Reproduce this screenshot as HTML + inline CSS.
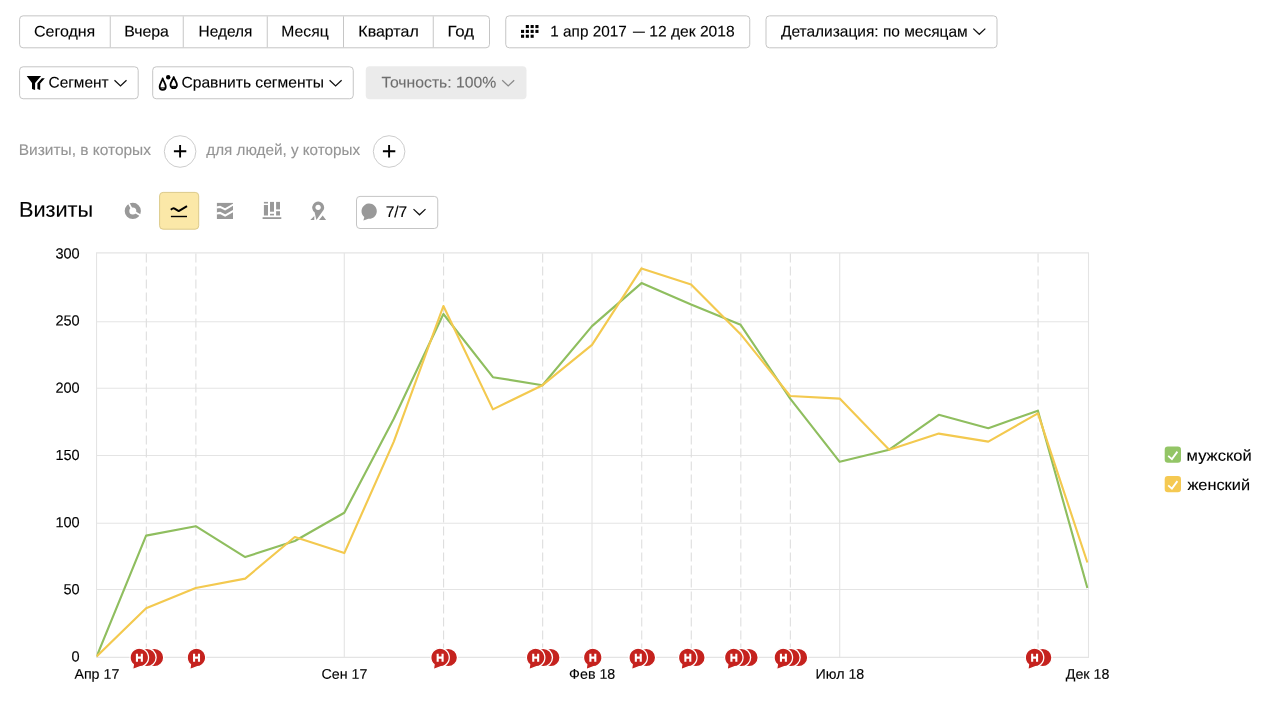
<!DOCTYPE html>
<html lang="ru">
<head>
<meta charset="utf-8">
<title>Визиты</title>
<style>
html,body{margin:0;padding:0;background:#fff;}
body{width:1261px;height:716px;position:relative;overflow:hidden;font-family:"Liberation Sans",sans-serif;font-size:15px;color:#000;}
.ov{position:absolute;left:0;top:0;}
.txt{position:absolute;left:0;top:0;width:1261px;height:716px;will-change:transform;}
.lbl{position:absolute;white-space:nowrap;line-height:30px;-webkit-text-stroke:0.12px currentColor;}
</style>
</head>
<body>
<svg class="ov" width="1261" height="716" viewBox="0 0 1261 716">
<defs>
<clipPath id="cp"><rect x="96.5" y="240" width="992" height="430"/></clipPath>
</defs>
<rect x="19.6" y="15.85" width="469.90" height="31.95" rx="3.5" fill="#fff" stroke="#c5c5c5" stroke-width="1"/>
<line x1="110.25" y1="16.3" x2="110.25" y2="47.3" stroke="#c6c6c6" stroke-width="1"/>
<line x1="183.25" y1="16.3" x2="183.25" y2="47.3" stroke="#c6c6c6" stroke-width="1"/>
<line x1="267.25" y1="16.3" x2="267.25" y2="47.3" stroke="#c6c6c6" stroke-width="1"/>
<line x1="343.5" y1="16.3" x2="343.5" y2="47.3" stroke="#c6c6c6" stroke-width="1"/>
<line x1="433.25" y1="16.3" x2="433.25" y2="47.3" stroke="#c6c6c6" stroke-width="1"/>
<rect x="505.75" y="15.85" width="244.00" height="31.95" rx="3.5" fill="#fff" stroke="#c5c5c5" stroke-width="1"/>
<rect x="766" y="15.85" width="231.00" height="31.95" rx="3.5" fill="#fff" stroke="#c5c5c5" stroke-width="1"/>
<rect x="19.6" y="66.8" width="118.60" height="31.95" rx="3.5" fill="#fff" stroke="#c5c5c5" stroke-width="1"/>
<rect x="152.7" y="66.8" width="200.55" height="31.95" rx="3.5" fill="#fff" stroke="#c5c5c5" stroke-width="1"/>
<rect x="365.75" y="66.3" width="160.75" height="32.95" rx="4" fill="#ebebeb"/>
<rect x="356.5" y="196.4" width="81.25" height="32.10" rx="3.5" fill="#fff" stroke="#c5c5c5" stroke-width="1"/>
<rect x="159.6" y="192.4" width="39.10" height="36.80" rx="3.5" fill="#fbe8a8" stroke="#dcca8a" stroke-width="1"/>
<circle cx="180.1" cy="151.5" r="15.8" fill="#fff" stroke="#cdcdcd" stroke-width="1"/>
<path d="M173.9,151.3 h12.4 M180.1,145.1 v12.4" stroke="#000" stroke-width="1.9" fill="none"/>
<circle cx="389.1" cy="151.5" r="15.8" fill="#fff" stroke="#cdcdcd" stroke-width="1"/>
<path d="M382.90000000000003,151.3 h12.4 M389.1,145.1 v12.4" stroke="#000" stroke-width="1.9" fill="none"/>
<path d="M973.3,28.6 l6,5.7 l6,-5.7" fill="none" stroke-width="1.25" stroke="#111"/>
<path d="M114.5,80.2 l6,5.7 l6,-5.7" fill="none" stroke-width="1.25" stroke="#111"/>
<path d="M329.6,80.2 l6,5.7 l6,-5.7" fill="none" stroke-width="1.25" stroke="#111"/>
<path d="M502.2,80.2 l6,5.7 l6,-5.7" fill="none" stroke-width="1.25" stroke="#8a8a8a"/>
<path d="M413.5,209.1 l6,5.7 l6,-5.7" fill="none" stroke-width="1.25" stroke="#111"/>
<rect x="525.8" y="25.00" width="3.1" height="3.1" fill="#000"/>
<rect x="530.6" y="25.00" width="3.1" height="3.1" fill="#000"/>
<rect x="535.4" y="25.00" width="3.1" height="3.1" fill="#000"/>
<rect x="521.0" y="29.85" width="3.1" height="3.1" fill="#000"/>
<rect x="525.8" y="29.85" width="3.1" height="3.1" fill="#000"/>
<rect x="530.6" y="29.85" width="3.1" height="3.1" fill="#000"/>
<rect x="535.4" y="29.85" width="3.1" height="3.1" fill="#000"/>
<rect x="521.0" y="34.70" width="3.1" height="3.1" fill="#000"/>
<rect x="525.8" y="34.70" width="3.1" height="3.1" fill="#000"/>
<rect x="530.6" y="34.70" width="3.1" height="3.1" fill="#000"/>
<line x1="632.9" y1="32.2" x2="644.9" y2="32.2" stroke="#000" stroke-width="1.1"/>
<path d="M26.7,76 H41.1 L35.1,83 V90 L32,88.9 V83 Z M41.9,78.2 H44.8 L40.2,83.6 V90 L37.4,88.9 V83.3 Z" fill="#000"/>
<path d="M162.7,78.4 C161.80,81.40 159.65,84.15 159.65,86.75 A3.05,3.05 0 0,0 165.75,86.75 C165.75,84.15 163.60,81.40 162.7,78.4 Z" fill="none" stroke="#000" stroke-width="1.8" stroke-linejoin="round"/>
<path d="M160.6,87.9 h4.3" stroke="#000" stroke-width="1"/>
<path d="M173.7,77.0 C172.80,80.00 170.45,82.35 170.45,84.95 A3.25,3.25 0 0,0 176.95,84.95 C176.95,82.35 174.60,80.00 173.7,77.0 Z" fill="none" stroke="#000" stroke-width="1.8" stroke-linejoin="round"/>
<path d="M171.4,86.4 h4.7" stroke="#000" stroke-width="1"/>
<circle cx="168.2" cy="77.2" r="2.2" fill="#000"/>
<circle cx="132.8" cy="210.9" r="5.8" fill="none" stroke="#999" stroke-width="4.6"/>
<path d="M132.8,210.9 L127.9,201.6 M132.8,210.9 L142,216.2" stroke="#fff" stroke-width="1.8"/>
<path d="M170.8,209.7 C172.2,208.6 173.4,207.9 174.6,208.6 L178.7,211.1 L187,206.1" fill="none" stroke="#000" stroke-width="2" stroke-linejoin="round"/>
<path d="M170.9,216.5 H187" stroke="#000" stroke-width="1.4"/>
<rect x="216.9" y="202.9" width="16.1" height="16.1" fill="#999"/>
<path d="M216.5,207.6 L220,206.9 L225.1,209.4 L233.4,204.5" fill="none" stroke="#fff" stroke-width="2"/>
<path d="M216.5,213.5 L220,212.9 L225.1,215.5 L233.4,210.8" fill="none" stroke="#fff" stroke-width="2"/>
<rect x="263.9" y="201.9" width="4.1" height="1.6" fill="#999"/>
<rect x="263.9" y="205" width="4.1" height="10.5" fill="#999"/>
<rect x="270" y="201.9" width="4" height="9.8" fill="#999"/>
<rect x="270" y="213.8" width="4" height="1.6" fill="#999"/>
<rect x="276.1" y="201.9" width="3.9" height="7.5" fill="#999"/>
<rect x="276.1" y="211.2" width="3.9" height="4.3" fill="#999"/>
<rect x="262.6" y="217.2" width="18.7" height="1.8" fill="#999"/>
<path d="M310.3,220.1 H314.3 V216 Z M319,220.1 H326.1 L322.7,215.6 Z" fill="#999"/>
<path d="M314.6,212.3 A5.95,5.95 0 1,1 323.7,209.8 L316.4,219.9 Z" fill="#999" stroke="#fff" stroke-width="1.2" paint-order="stroke"/>
<circle cx="318.1" cy="207.3" r="2.65" fill="#fff"/>
<path d="M364.3,217.1 A7.65,7.65 0 1,1 368.4,218.8 L363.4,220.6 Z" fill="#999"/>
<line x1="96" y1="252.9" x2="1089" y2="252.9" stroke="#e4e4e4" stroke-width="1.1"/>
<line x1="96" y1="321.7" x2="1089" y2="321.7" stroke="#e4e4e4" stroke-width="1.1"/>
<line x1="96" y1="388.3" x2="1089" y2="388.3" stroke="#e4e4e4" stroke-width="1.1"/>
<line x1="96" y1="455.5" x2="1089" y2="455.5" stroke="#e4e4e4" stroke-width="1.1"/>
<line x1="96" y1="523.3" x2="1089" y2="523.3" stroke="#e4e4e4" stroke-width="1.1"/>
<line x1="96" y1="589.5" x2="1089" y2="589.5" stroke="#e4e4e4" stroke-width="1.1"/>
<line x1="96" y1="657.4" x2="1089" y2="657.4" stroke="#e4e4e4" stroke-width="1.1"/>
<line x1="96.55" y1="252.9" x2="96.55" y2="657.4" stroke="#e4e4e4" stroke-width="1.1"/>
<line x1="344.30" y1="252.9" x2="344.30" y2="657.4" stroke="#e4e4e4" stroke-width="1.1"/>
<line x1="592.00" y1="252.9" x2="592.00" y2="657.4" stroke="#e4e4e4" stroke-width="1.1"/>
<line x1="839.70" y1="252.9" x2="839.70" y2="657.4" stroke="#e4e4e4" stroke-width="1.1"/>
<line x1="1088.50" y1="252.9" x2="1088.50" y2="657.4" stroke="#e4e4e4" stroke-width="1.1"/>
<line x1="146.34" y1="253.4" x2="146.34" y2="657" stroke="#dedede" stroke-width="1.1" stroke-dasharray="9 4"/>
<line x1="195.88" y1="253.4" x2="195.88" y2="657" stroke="#dedede" stroke-width="1.1" stroke-dasharray="9 4"/>
<line x1="443.58" y1="253.4" x2="443.58" y2="657" stroke="#dedede" stroke-width="1.1" stroke-dasharray="9 4"/>
<line x1="542.66" y1="253.4" x2="542.66" y2="657" stroke="#dedede" stroke-width="1.1" stroke-dasharray="9 4"/>
<line x1="641.74" y1="253.4" x2="641.74" y2="657" stroke="#dedede" stroke-width="1.1" stroke-dasharray="9 4"/>
<line x1="691.28" y1="253.4" x2="691.28" y2="657" stroke="#dedede" stroke-width="1.1" stroke-dasharray="9 4"/>
<line x1="740.82" y1="253.4" x2="740.82" y2="657" stroke="#dedede" stroke-width="1.1" stroke-dasharray="9 4"/>
<line x1="790.36" y1="253.4" x2="790.36" y2="657" stroke="#dedede" stroke-width="1.1" stroke-dasharray="9 4"/>
<line x1="1038.06" y1="253.4" x2="1038.06" y2="657" stroke="#dedede" stroke-width="1.1" stroke-dasharray="9 4"/>
<polyline clip-path="url(#cp)" points="96.6,656.5 146.1,535.6 195.7,526.2 245.2,557.1 294.8,541.0 344.3,512.8 393.8,418.8 443.4,314.0 492.9,377.2 542.5,385.2 592.0,326.1 641.5,283.1 691.1,304.6 740.6,324.8 790.2,398.6 839.7,461.8 889.2,449.7 938.8,414.8 988.3,428.2 1037.9,410.7 1087.4,588.0" fill="none" stroke="#8fbe5f" stroke-width="2.15" stroke-linejoin="round"/>
<polyline clip-path="url(#cp)" points="96.6,656.5 146.1,608.2 195.7,588.0 245.2,578.6 294.8,537.0 344.3,553.1 393.8,441.6 443.4,306.0 492.9,409.4 542.5,385.2 592.0,344.9 641.5,268.4 691.1,284.5 740.6,334.2 790.2,396.0 839.7,398.6 889.2,449.7 938.8,433.6 988.3,441.6 1037.9,413.4 1087.4,562.5" fill="none" stroke="#f3c94f" stroke-width="2.15" stroke-linejoin="round"/>
<circle cx="154.49" cy="657.5" r="9.25" fill="#c5221e" stroke="#fff" stroke-width="1.3"/>
<circle cx="146.89" cy="657.5" r="9.25" fill="#c5221e" stroke="#fff" stroke-width="1.3"/>
<path transform="translate(139.29,657.5)" d="M-5.95,7.08 A9.25,9.25 0 1,1 1.06,9.19 L-6.7,12.1 Z" fill="#c5221e" stroke="#fff" stroke-width="1.3" stroke-linejoin="round"/>
<path d="M136.94,653.7 v8 M141.84,653.7 v8 M136.99,657.6 h4.8" stroke="#fff" stroke-width="2.1" fill="none"/>
<path transform="translate(196.43,657.5)" d="M-5.95,7.08 A9.25,9.25 0 1,1 1.06,9.19 L-6.7,12.1 Z" fill="#c5221e" stroke="#fff" stroke-width="1.3" stroke-linejoin="round"/>
<path d="M194.08,653.7 v8 M198.98,653.7 v8 M194.13,657.6 h4.8" stroke="#fff" stroke-width="2.1" fill="none"/>
<circle cx="448.23" cy="657.5" r="9.25" fill="#c5221e" stroke="#fff" stroke-width="1.3"/>
<path transform="translate(440.03,657.5)" d="M-5.95,7.08 A9.25,9.25 0 1,1 1.06,9.19 L-6.7,12.1 Z" fill="#c5221e" stroke="#fff" stroke-width="1.3" stroke-linejoin="round"/>
<path d="M437.68,653.7 v8 M442.58,653.7 v8 M437.73,657.6 h4.8" stroke="#fff" stroke-width="2.1" fill="none"/>
<circle cx="550.81" cy="657.5" r="9.25" fill="#c5221e" stroke="#fff" stroke-width="1.3"/>
<circle cx="543.21" cy="657.5" r="9.25" fill="#c5221e" stroke="#fff" stroke-width="1.3"/>
<path transform="translate(535.61,657.5)" d="M-5.95,7.08 A9.25,9.25 0 1,1 1.06,9.19 L-6.7,12.1 Z" fill="#c5221e" stroke="#fff" stroke-width="1.3" stroke-linejoin="round"/>
<path d="M533.26,653.7 v8 M538.16,653.7 v8 M533.31,657.6 h4.8" stroke="#fff" stroke-width="2.1" fill="none"/>
<path transform="translate(592.75,657.5)" d="M-5.95,7.08 A9.25,9.25 0 1,1 1.06,9.19 L-6.7,12.1 Z" fill="#c5221e" stroke="#fff" stroke-width="1.3" stroke-linejoin="round"/>
<path d="M590.40,653.7 v8 M595.30,653.7 v8 M590.45,657.6 h4.8" stroke="#fff" stroke-width="2.1" fill="none"/>
<circle cx="646.39" cy="657.5" r="9.25" fill="#c5221e" stroke="#fff" stroke-width="1.3"/>
<path transform="translate(638.19,657.5)" d="M-5.95,7.08 A9.25,9.25 0 1,1 1.06,9.19 L-6.7,12.1 Z" fill="#c5221e" stroke="#fff" stroke-width="1.3" stroke-linejoin="round"/>
<path d="M635.84,653.7 v8 M640.74,653.7 v8 M635.89,657.6 h4.8" stroke="#fff" stroke-width="2.1" fill="none"/>
<circle cx="695.93" cy="657.5" r="9.25" fill="#c5221e" stroke="#fff" stroke-width="1.3"/>
<path transform="translate(687.73,657.5)" d="M-5.95,7.08 A9.25,9.25 0 1,1 1.06,9.19 L-6.7,12.1 Z" fill="#c5221e" stroke="#fff" stroke-width="1.3" stroke-linejoin="round"/>
<path d="M685.38,653.7 v8 M690.28,653.7 v8 M685.43,657.6 h4.8" stroke="#fff" stroke-width="2.1" fill="none"/>
<circle cx="748.97" cy="657.5" r="9.25" fill="#c5221e" stroke="#fff" stroke-width="1.3"/>
<circle cx="741.37" cy="657.5" r="9.25" fill="#c5221e" stroke="#fff" stroke-width="1.3"/>
<path transform="translate(733.77,657.5)" d="M-5.95,7.08 A9.25,9.25 0 1,1 1.06,9.19 L-6.7,12.1 Z" fill="#c5221e" stroke="#fff" stroke-width="1.3" stroke-linejoin="round"/>
<path d="M731.42,653.7 v8 M736.32,653.7 v8 M731.47,657.6 h4.8" stroke="#fff" stroke-width="2.1" fill="none"/>
<circle cx="798.51" cy="657.5" r="9.25" fill="#c5221e" stroke="#fff" stroke-width="1.3"/>
<circle cx="790.91" cy="657.5" r="9.25" fill="#c5221e" stroke="#fff" stroke-width="1.3"/>
<path transform="translate(783.31,657.5)" d="M-5.95,7.08 A9.25,9.25 0 1,1 1.06,9.19 L-6.7,12.1 Z" fill="#c5221e" stroke="#fff" stroke-width="1.3" stroke-linejoin="round"/>
<path d="M780.96,653.7 v8 M785.86,653.7 v8 M781.01,657.6 h4.8" stroke="#fff" stroke-width="2.1" fill="none"/>
<circle cx="1042.71" cy="657.5" r="9.25" fill="#c5221e" stroke="#fff" stroke-width="1.3"/>
<path transform="translate(1034.51,657.5)" d="M-5.95,7.08 A9.25,9.25 0 1,1 1.06,9.19 L-6.7,12.1 Z" fill="#c5221e" stroke="#fff" stroke-width="1.3" stroke-linejoin="round"/>
<path d="M1032.16,653.7 v8 M1037.06,653.7 v8 M1032.21,657.6 h4.8" stroke="#fff" stroke-width="2.1" fill="none"/>
<rect x="1164.7" y="446.5" width="16.3" height="16.3" rx="3.2" fill="#93c566"/>
<path d="M1168.2,455.9 L1171.9,459.1 L1177.4,451.6" fill="none" stroke="#fff" stroke-width="1.8"/>
<rect x="1164.7" y="476" width="16.3" height="16.3" rx="3.2" fill="#f5c952"/>
<path d="M1168.2,485.4 L1171.9,488.6 L1177.4,481.1" fill="none" stroke="#fff" stroke-width="1.8"/>
</svg>
<div class="txt">
<div class="lbl" style="left:33px;top:16px;font-size:15.4px;transform-origin:0 50%;transform:translate(0.96px,0.55px) rotate(0.03deg) scaleX(1.0391)">Сегодня</div>
<div class="lbl" style="left:124px;top:16px;font-size:15.4px;transform-origin:0 50%;transform:translate(0.13px,0.55px) rotate(0.03deg) scaleX(1.0314)">Вчера</div>
<div class="lbl" style="left:198px;top:16px;font-size:15.4px;transform-origin:0 50%;transform:translate(0.54px,0.55px) rotate(0.03deg) scaleX(1.0017)">Неделя</div>
<div class="lbl" style="left:281px;top:16px;font-size:15.4px;transform-origin:0 50%;transform:translate(0.37px,0.55px) rotate(0.03deg) scaleX(1.0183)">Месяц</div>
<div class="lbl" style="left:358px;top:16px;font-size:15.4px;transform-origin:0 50%;transform:translate(0.36px,0.55px) rotate(0.03deg) scaleX(1.0373)">Квартал</div>
<div class="lbl" style="left:447px;top:16px;font-size:15.4px;transform-origin:0 50%;transform:translate(0.38px,0.55px) rotate(0.03deg) scaleX(1.0917)">Год</div>
<div class="lbl" style="left:550px;top:16px;font-size:15.4px;transform-origin:0 50%;transform:translate(0.35px,0.55px) rotate(0.03deg) scaleX(0.9934)">1 апр 2017</div>
<div class="lbl" style="left:649px;top:16px;font-size:15.4px;transform-origin:0 50%;transform:translate(0.26px,0.55px) rotate(0.03deg) scaleX(1.0143)">12 дек 2018</div>
<div class="lbl" style="left:780px;top:16px;font-size:15.4px;transform-origin:0 50%;transform:translate(0.92px,0.55px) rotate(0.03deg) scaleX(1.0056)">Детализация: по месяцам</div>
<div class="lbl" style="left:48px;top:67px;font-size:15.4px;transform-origin:0 50%;transform:translate(0.50px,0.50px) rotate(0.03deg) scaleX(1.0022)">Сегмент</div>
<div class="lbl" style="left:181px;top:67px;font-size:15.4px;transform-origin:0 50%;transform:translate(0.44px,0.50px) rotate(0.03deg) scaleX(1.0148)">Сравнить сегменты</div>
<div class="lbl" style="left:381px;top:67px;font-size:15.4px;transform-origin:0 50%;transform:translate(0.58px,0.50px) rotate(0.03deg) scaleX(1.0228);color:#6e6e6e">Точность: 100%</div>
<div class="lbl" style="left:18px;top:134px;font-size:15.4px;transform-origin:0 50%;transform:translate(0.69px,0.90px) rotate(0.03deg) scaleX(1.0059);color:#949494">Визиты, в которых</div>
<div class="lbl" style="left:206px;top:134px;font-size:15.4px;transform-origin:0 50%;transform:translate(0.31px,0.90px) rotate(0.03deg) scaleX(0.9898);color:#949494">для людей, у которых</div>
<div class="lbl" style="left:18px;top:194px;font-size:21.5px;transform-origin:0 50%;transform:translate(0.92px,0.70px) rotate(0.03deg) scaleX(1.0101)">Визиты</div>
<div class="lbl" style="left:385px;top:197px;font-size:15.4px;transform-origin:0 50%;transform:translate(0.65px,0.10px) rotate(0.03deg) scaleX(1.0104)">7/7</div>
<div class="lbl" style="left:1186px;top:440px;font-size:15.4px;transform-origin:0 50%;transform:translate(0.61px,0.70px) rotate(0.03deg) scaleX(1.073)">мужской</div>
<div class="lbl" style="left:1187px;top:470px;font-size:15.4px;transform-origin:0 50%;transform:translate(0.42px,0.10px) rotate(0.03deg) scaleX(1.0613)">женский</div>
<div class="lbl" style="left:55px;top:238px;font-size:14.6px;transform-origin:0 50%;transform:translate(0.38px,0.40px) rotate(0.03deg) scaleX(0.9974)">300</div>
<div class="lbl" style="left:74px;top:658px;font-size:14.0px;transform-origin:0 50%;transform:translate(0.38px,0.80px) rotate(0.03deg) scaleX(1.0181)">Апр 17</div>
<div class="lbl" style="left:-5px;top:305px;font-size:14.6px;transform-origin:100% 50%;transform:translate(0.38px,0.59px) rotate(0.03deg) scaleX(0.9974);width:84.35px;text-align:right">250</div>
<div class="lbl" style="left:-5px;top:372px;font-size:14.6px;transform-origin:100% 50%;transform:translate(0.38px,0.78px) rotate(0.03deg) scaleX(0.9974);width:84.35px;text-align:right">200</div>
<div class="lbl" style="left:-5px;top:439px;font-size:14.6px;transform-origin:100% 50%;transform:translate(0.38px,0.97px) rotate(0.03deg) scaleX(0.9974);width:84.35px;text-align:right">150</div>
<div class="lbl" style="left:-5px;top:507px;font-size:14.6px;transform-origin:100% 50%;transform:translate(0.38px,0.16px) rotate(0.03deg) scaleX(0.9974);width:84.35px;text-align:right">100</div>
<div class="lbl" style="left:-5px;top:574px;font-size:14.6px;transform-origin:100% 50%;transform:translate(0.38px,0.35px) rotate(0.03deg) scaleX(0.9974);width:84.35px;text-align:right">50</div>
<div class="lbl" style="left:-5px;top:641px;font-size:14.6px;transform-origin:100% 50%;transform:translate(0.38px,0.54px) rotate(0.03deg) scaleX(0.9974);width:84.35px;text-align:right">0</div>
<div class="lbl" style="left:294px;top:658px;font-size:14.0px;transform-origin:50% 50%;transform:translate(0.50px,0.80px) rotate(0.03deg) scaleX(1.0181);width:100px;text-align:center">Сен 17</div>
<div class="lbl" style="left:542px;top:658px;font-size:14.0px;transform-origin:50% 50%;transform:translate(0.20px,0.80px) rotate(0.03deg) scaleX(1.0181);width:100px;text-align:center">Фев 18</div>
<div class="lbl" style="left:789px;top:658px;font-size:14.0px;transform-origin:50% 50%;transform:translate(0.90px,0.80px) rotate(0.03deg) scaleX(1.0181);width:100px;text-align:center">Июл 18</div>
<div class="lbl" style="left:1037px;top:658px;font-size:14.0px;transform-origin:50% 50%;transform:translate(0.60px,0.80px) rotate(0.03deg) scaleX(1.0181);width:100px;text-align:center">Дек 18</div>
</div>
</body>
</html>
